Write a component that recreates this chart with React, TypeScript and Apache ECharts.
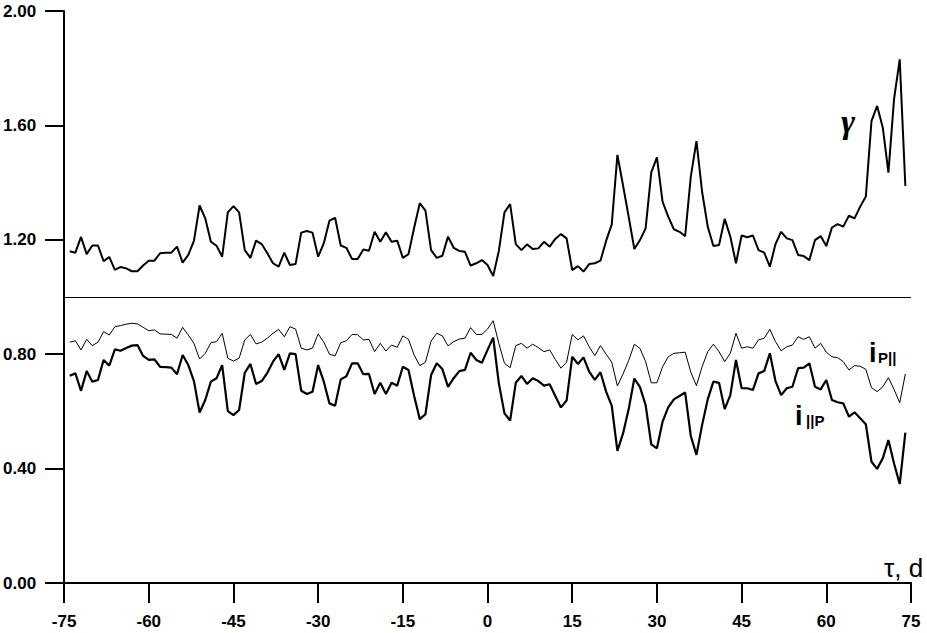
import React, { useEffect, useRef } from "react";
import * as echarts from "echarts";

const DAYS = [
  -74, -73, -72, -71, -70, -69, -68, -67, -66, -65, -64, -63, -62, -61, -60, -59, -58, -57, -56, -55,
  -54, -53, -52, -51, -50, -49, -48, -47, -46, -45, -44, -43, -42, -41, -40, -39, -38, -37, -36, -35,
  -34, -33, -32, -31, -30, -29, -28, -27, -26, -25, -24, -23, -22, -21, -20, -19, -18, -17, -16, -15,
  -14, -13, -12, -11, -10, -9, -8, -7, -6, -5, -4, -3, -2, -1, 0, 1, 2, 3, 4, 5,
  6, 7, 8, 9, 10, 11, 12, 13, 14, 15, 16, 17, 18, 19, 20, 21, 22, 23, 24, 25,
  26, 27, 28, 29, 30, 31, 32, 33, 34, 35, 36, 37, 38, 39, 40, 41, 42, 43, 44, 45,
  46, 47, 48, 49, 50, 51, 52, 53, 54, 55, 56, 57, 58, 59, 60, 61, 62, 63, 64, 65,
  66, 67, 68, 69, 70, 71, 72, 73, 74,
];

const GAMMA = [
  1.16, 1.155, 1.21, 1.15, 1.18, 1.18, 1.125, 1.14, 1.095, 1.105, 1.1, 1.09, 1.09, 1.11, 1.127, 1.127, 1.153, 1.155, 1.155, 1.176,
  1.12, 1.147, 1.196, 1.32, 1.275, 1.193, 1.179, 1.141, 1.296, 1.318, 1.296, 1.164, 1.137, 1.197, 1.185, 1.153, 1.118, 1.106, 1.155, 1.112,
  1.115, 1.225, 1.231, 1.225, 1.141, 1.188, 1.267, 1.277, 1.18, 1.172, 1.133, 1.133, 1.166, 1.162, 1.228, 1.193, 1.226, 1.193, 1.197, 1.137,
  1.15, 1.242, 1.328, 1.302, 1.164, 1.137, 1.144, 1.211, 1.172, 1.161, 1.158, 1.11, 1.118, 1.129, 1.112, 1.073, 1.161, 1.296, 1.325, 1.185,
  1.164, 1.184, 1.168, 1.17, 1.193, 1.176, 1.203, 1.22, 1.205, 1.094, 1.108, 1.089, 1.115, 1.118, 1.127, 1.196, 1.254, 1.497, 1.39, 1.28,
  1.168, 1.199, 1.24, 1.436, 1.488, 1.333, 1.281, 1.237, 1.228, 1.213, 1.421, 1.545, 1.368, 1.246, 1.178, 1.182, 1.273, 1.211, 1.118, 1.215,
  1.209, 1.215, 1.164, 1.155, 1.106, 1.185, 1.228, 1.205, 1.199, 1.147, 1.143, 1.129, 1.199, 1.213, 1.178, 1.243, 1.255, 1.246, 1.284, 1.275,
  1.316, 1.351, 1.615, 1.668, 1.593, 1.435, 1.692, 1.831, 1.388,
];

const I_P_I = [
  0.842, 0.847, 0.815, 0.852, 0.83, 0.842, 0.879, 0.867, 0.896, 0.9, 0.905, 0.908, 0.906, 0.894, 0.882, 0.885, 0.871, 0.87, 0.869, 0.856,
  0.894, 0.867, 0.838, 0.783, 0.803, 0.84, 0.844, 0.873, 0.786, 0.776, 0.786, 0.85, 0.869, 0.836, 0.842, 0.856, 0.873, 0.887, 0.861, 0.896,
  0.888, 0.821, 0.815, 0.821, 0.871, 0.842, 0.8, 0.794, 0.84, 0.847, 0.869, 0.868, 0.85, 0.852, 0.809, 0.838, 0.811, 0.832, 0.824, 0.864,
  0.852, 0.797, 0.76, 0.772, 0.846, 0.873, 0.864, 0.829, 0.844, 0.853, 0.856, 0.893, 0.869, 0.869, 0.888, 0.917, 0.838, 0.768, 0.753, 0.83,
  0.838, 0.821, 0.835, 0.823, 0.809, 0.815, 0.782, 0.751, 0.772, 0.869, 0.85, 0.864, 0.826, 0.795, 0.83, 0.8, 0.772, 0.689, 0.731, 0.778,
  0.835, 0.82, 0.774, 0.7, 0.7, 0.756, 0.791, 0.803, 0.805, 0.807, 0.737, 0.69, 0.756, 0.809, 0.835, 0.809, 0.774, 0.803, 0.873, 0.821,
  0.826, 0.821, 0.85, 0.856, 0.887, 0.844, 0.812, 0.826, 0.832, 0.861, 0.852, 0.861, 0.821, 0.838, 0.807, 0.791, 0.788, 0.774, 0.745, 0.76,
  0.758, 0.747, 0.683, 0.669, 0.686, 0.718, 0.677, 0.63, 0.731,
];

const I_I_P = [
  0.725, 0.733, 0.672, 0.741, 0.704, 0.71, 0.78, 0.76, 0.817, 0.812, 0.822, 0.83, 0.832, 0.794, 0.78, 0.782, 0.756, 0.755, 0.753, 0.73,
  0.797, 0.762, 0.706, 0.596, 0.64, 0.704, 0.716, 0.762, 0.601, 0.587, 0.605, 0.735, 0.766, 0.696, 0.706, 0.735, 0.774, 0.8, 0.745, 0.803,
  0.8, 0.672, 0.661, 0.669, 0.762, 0.704, 0.628, 0.62, 0.712, 0.723, 0.768, 0.768, 0.73, 0.731, 0.661, 0.7, 0.661, 0.7, 0.69, 0.756,
  0.745, 0.654, 0.573, 0.59, 0.727, 0.768, 0.748, 0.686, 0.716, 0.741, 0.745, 0.805, 0.78, 0.77, 0.815, 0.858, 0.698, 0.593, 0.568, 0.7,
  0.724, 0.696, 0.716, 0.706, 0.69, 0.695, 0.654, 0.614, 0.638, 0.791, 0.766, 0.789, 0.739, 0.71, 0.737, 0.669, 0.619, 0.462, 0.523, 0.608,
  0.715, 0.685, 0.622, 0.485, 0.471, 0.564, 0.614, 0.642, 0.654, 0.666, 0.514, 0.448, 0.552, 0.642, 0.704, 0.7, 0.608, 0.657, 0.78, 0.681,
  0.681, 0.675, 0.733, 0.741, 0.803, 0.706, 0.657, 0.681, 0.686, 0.751, 0.753, 0.768, 0.686, 0.677, 0.71, 0.64, 0.632, 0.628, 0.582, 0.597,
  0.576, 0.555, 0.424, 0.399, 0.436, 0.5, 0.418, 0.346, 0.526,
];

const REFERENCE_LEVEL = 1.0;

const SANS = "'Liberation Sans', Arial, sans-serif";
const SERIF = "'Liberation Serif', 'Times New Roman', serif";

function pairs(values: number[]) {
  return DAYS.map((d, i) => [d, values[i]]);
}

export default function App() {
  const ref = useRef<HTMLDivElement>(null);

  useEffect(() => {
    if (!ref.current) return;
    const chart = echarts.init(ref.current, null, { renderer: "svg" });
    chart.setOption({
      animation: false,
      backgroundColor: "#ffffff",
      grid: { left: 62, right: 16, top: 11, bottom: 50, containLabel: false },
      xAxis: {
        type: "value",
        min: -75,
        max: 75,
        interval: 15,
        axisLine: { show: true, onZero: false, lineStyle: { color: "#000", width: 2 } },
        axisTick: { show: true, inside: false, length: 20, lineStyle: { color: "#000", width: 2 } },
        axisLabel: {
          color: "#000",
          fontFamily: SANS,
          fontWeight: "bold",
          fontSize: 17,
          margin: 30,
        },
        splitLine: { show: false },
      },
      yAxis: {
        type: "value",
        min: 0,
        max: 2,
        interval: 0.4,
        axisLine: { show: true, onZero: false, lineStyle: { color: "#000", width: 2 } },
        axisTick: { show: true, inside: false, length: 19, lineStyle: { color: "#000", width: 2 } },
        axisLabel: {
          color: "#000",
          fontFamily: SANS,
          fontWeight: "bold",
          fontSize: 17,
          margin: 28,
          formatter: (v: number) => v.toFixed(2),
        },
        splitLine: { show: false },
      },
      series: [
        {
          name: "γ",
          type: "line",
          data: pairs(GAMMA),
          showSymbol: false,
          symbol: "none",
          lineStyle: { color: "#000", width: 2 },
          markLine: {
            silent: true,
            symbol: "none",
            label: { show: false },
            lineStyle: { color: "#000", width: 1, type: "solid" },
            data: [{ yAxis: REFERENCE_LEVEL }],
          },
        },
        {
          name: "iP||",
          type: "line",
          data: pairs(I_P_I),
          showSymbol: false,
          symbol: "none",
          lineStyle: { color: "#000", width: 1 },
        },
        {
          name: "i||P",
          type: "line",
          data: pairs(I_I_P),
          showSymbol: false,
          symbol: "none",
          lineStyle: { color: "#000", width: 2.2 },
        },
      ],
      graphic: [
        {
          type: "text",
          left: 841,
          top: 104,
          style: { text: "γ", font: `italic bold 34px ${SERIF}`, fill: "#000" },
        },
        {
          type: "text",
          left: 869,
          top: 339,
          style: { text: "i", font: `bold 27px ${SANS}`, fill: "#000" },
        },
        {
          type: "text",
          left: 878,
          top: 350,
          style: { text: "P||", font: `bold 15px ${SANS}`, fill: "#000" },
        },
        {
          type: "text",
          left: 795,
          top: 402,
          style: { text: "i", font: `bold 27px ${SANS}`, fill: "#000" },
        },
        {
          type: "text",
          left: 806,
          top: 413,
          style: { text: "||P", font: `bold 15px ${SANS}`, fill: "#000" },
        },
        {
          type: "text",
          left: 884,
          top: 555,
          style: { text: "τ, d", font: `26px ${SANS}`, fill: "#000" },
        },
      ],
    });
    return () => chart.dispose();
  }, []);

  return (
    <div
      ref={ref}
      style={{ position: "fixed", left: 0, top: 0, width: 927, height: 633, background: "#fff" }}
    />
  );
}
